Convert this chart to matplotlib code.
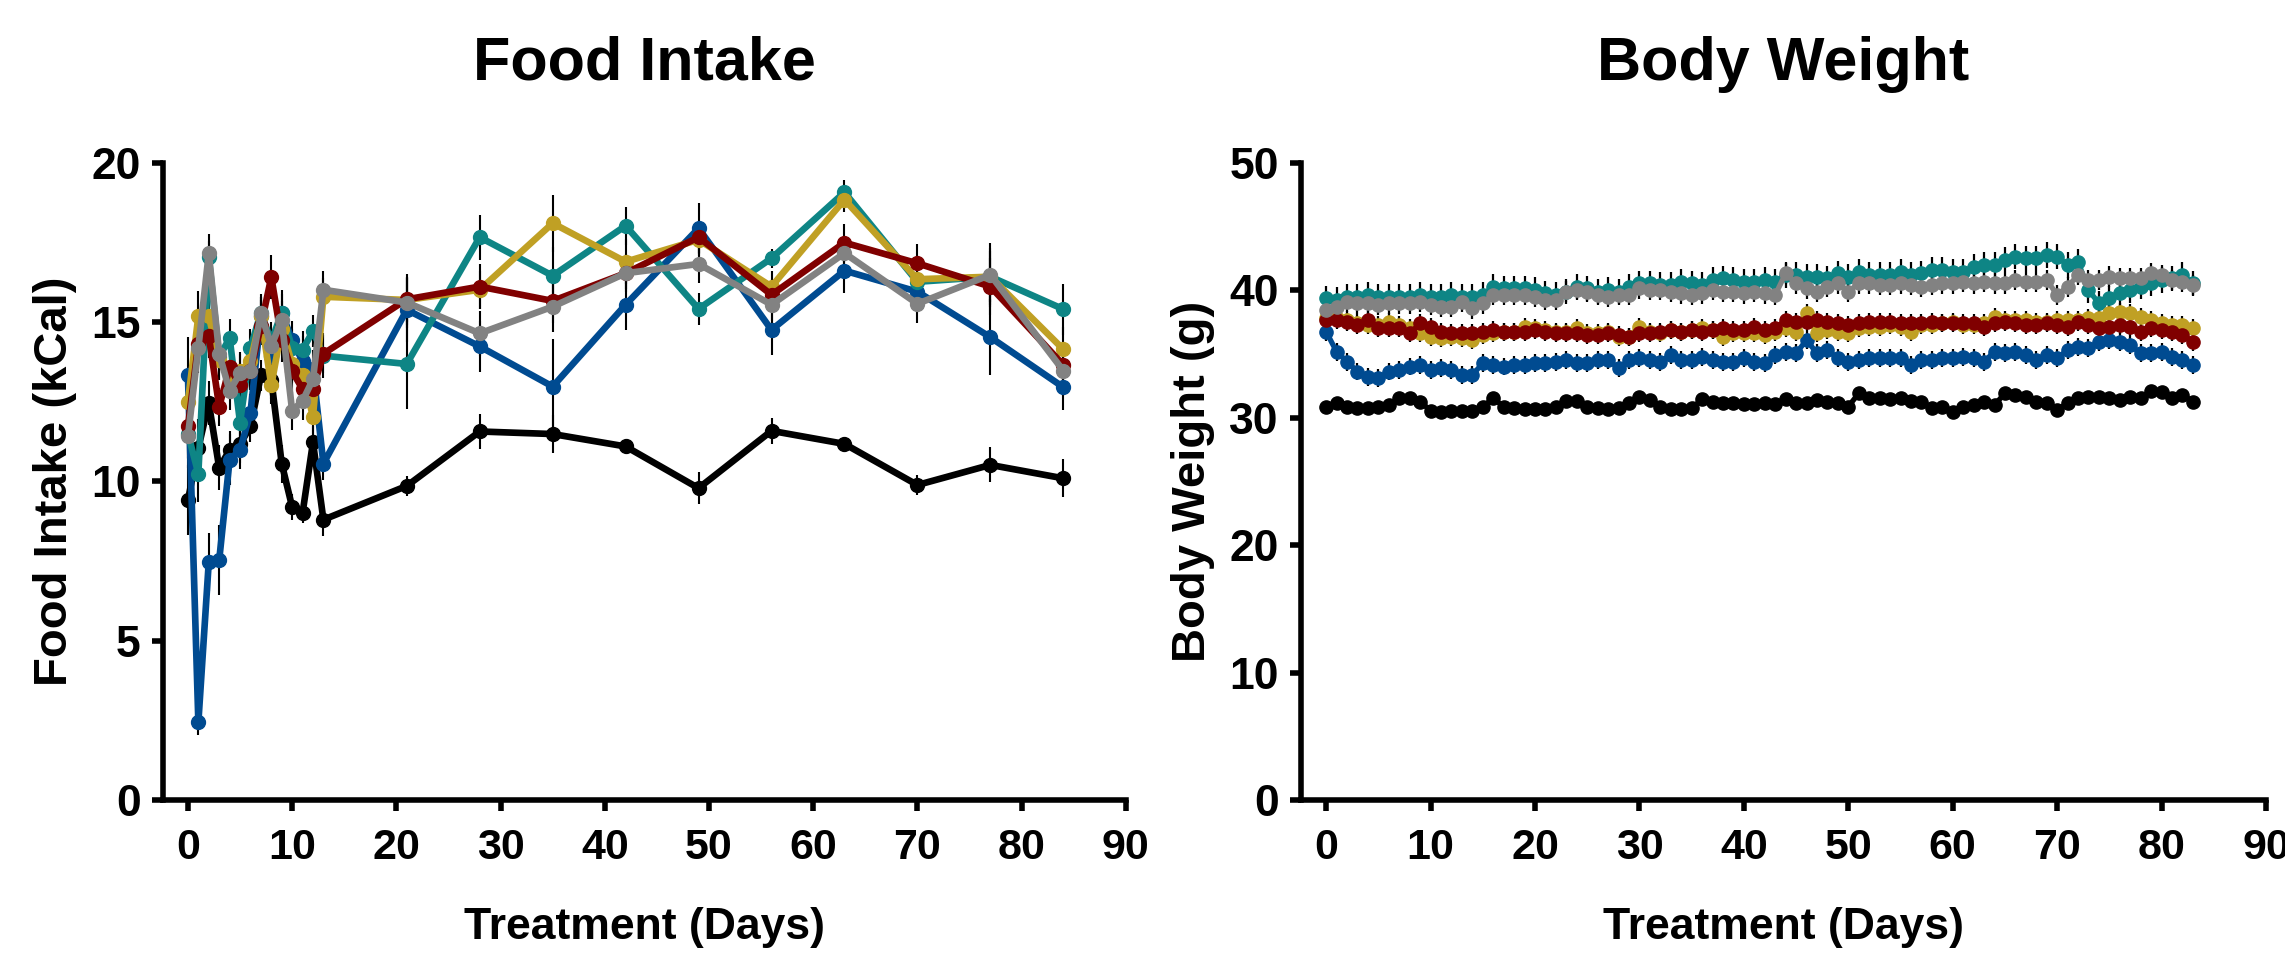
import numpy as np
import matplotlib
matplotlib.use("Agg")
import matplotlib.pyplot as plt

plt.rcParams['font.family'] = ['Liberation Sans', 'DejaVu Sans']
plt.rcParams['font.weight'] = 'bold'

# ---------------- Food intake (kCal) ----------------
fi_days = [0, 1, 2, 3, 4, 5, 6, 7, 8, 9, 10, 11, 12, 13,
           21, 28, 35, 42, 49, 56, 63, 70, 77, 84]

fi_black = [9.41, 11.05, 12.47, 10.43, 10.99, 11.17, 11.73, 13.33, 13.2, 10.56, 9.20, 9.01, 11.23, 8.80,
            9.86, 11.57, 11.49, 11.10, 9.79, 11.59, 11.18, 9.89, 10.52, 10.10]
fi_blue = [13.33, 2.44, 7.47, 7.53, 10.68, 10.99, 12.16, 15.2, 13.95, 15.3, 14.44, 13.77, 13.52, 10.56,
           15.39, 14.24, 12.98, 15.55, 17.95, 14.76, 16.62, 15.96, 14.53, 12.96]
fi_teal = [11.5, 10.25, 17.04, 13.9, 14.51, 11.85, 14.2, 15.3, 14.4, 15.3, 14.2, 14.14, 14.72, 13.95,
           13.69, 17.67, 16.46, 18.03, 15.42, 17.01, 19.08, 16.27, 16.43, 15.41]
fi_gold = [12.5, 15.19, 15.19, 13.8, 13.2, 13.46, 13.77, 15.19, 13.02, 14.8, 13.7, 13.33, 12.04, 15.8,
           15.70, 16.02, 18.11, 16.90, 17.59, 16.12, 18.85, 16.35, 16.43, 14.15]
fi_red = [11.73, 14.32, 14.57, 12.35, 13.58, 13.02, 13.46, 14.88, 16.42, 14.44, 13.46, 12.9, 12.9, 14.01,
          15.72, 16.12, 15.67, 16.54, 17.67, 15.86, 17.5, 16.85, 16.12, 13.66]
fi_gray = [11.42, 14.2, 17.16, 14.01, 12.84, 13.4, 13.46, 15.28, 14.26, 15.06, 12.22, 12.53, 13.21, 16.02,
           15.62, 14.65, 15.49, 16.54, 16.83, 15.55, 17.17, 15.58, 16.49, 13.48]

fi_black_sem = [1.1, 0.9, 0.7, 0.7, 0.6, 0.6, 0.5, 0.5, 0.6, 0.6, 0.4, 0.3, 0.5, 0.5,
                0.3, 0.55, 0.6, 0.1, 0.5, 0.4, 0.2, 0.3, 0.55, 0.6]
fi_blue_sem = [1.2, 0.4, 0.9, 1.1, 0.8, 0.6, 0.6, 0.5, 0.6, 0.7, 0.6, 0.8, 0.6, 0.5,
               1.0, 0.8, 1.5, 0.8, 0.8, 0.8, 0.7, 0.5, 1.2, 0.7]
fi_teal_sem = [0.8, 0.9, 0.5, 0.7, 0.6, 0.8, 0.6, 0.5, 0.6, 0.6, 0.6, 0.6, 0.5, 0.7,
               1.4, 0.7, 0.9, 0.6, 0.5, 0.3, 0.4, 0.6, 0.8, 0.8]
fi_gold_sem = [1.0, 0.8, 0.7, 0.6, 0.6, 0.6, 0.6, 0.6, 0.6, 0.6, 0.6, 0.6, 0.7, 0.6,
               0.8, 0.6, 0.9, 0.7, 0.5, 0.5, 0.4, 0.5, 0.9, 0.7]
fi_red_sem = [1.0, 0.9, 0.7, 0.6, 0.6, 0.6, 0.6, 0.6, 0.7, 0.7, 0.6, 0.6, 0.7, 0.6,
              0.7, 0.7, 0.7, 0.5, 0.5, 0.5, 0.6, 0.6, 0.9, 0.7]
fi_gray_sem = [1.0, 0.8, 0.6, 0.6, 0.6, 0.6, 0.6, 0.6, 0.6, 0.6, 0.6, 0.6, 0.6, 0.6,
               0.8, 0.7, 0.8, 0.6, 0.6, 0.5, 0.5, 0.6, 1.0, 0.8]

# ---------------- Body weight (g), days 0..83 ----------------
bw_days = list(range(84))

bw_black = [30.88, 31.14, 30.88, 30.75, 30.75, 30.88, 31.01, 31.53, 31.53, 31.27,
            30.56, 30.48, 30.56, 30.56, 30.56, 30.88, 31.53, 30.88, 30.75, 30.67,
            30.67, 30.67, 30.88, 31.35, 31.35, 30.88, 30.75, 30.67, 30.75, 31.14,
            31.61, 31.40, 30.88, 30.67, 30.67, 30.75, 31.45, 31.27, 31.14, 31.14,
            31.09, 31.09, 31.14, 31.09, 31.45, 31.14, 31.14, 31.40, 31.27, 31.14,
            30.88, 31.92, 31.53, 31.53, 31.45, 31.53, 31.35, 31.27, 30.75, 30.88,
            30.48, 30.83, 31.01, 31.27, 31.01, 31.92, 31.79, 31.66, 31.27, 31.14,
            30.62, 31.14, 31.53, 31.66, 31.66, 31.53, 31.40, 31.66, 31.53, 32.13,
            32.05, 31.53, 31.79, 31.27]
bw_teal = [39.38, 39.25, 39.51, 39.51, 39.64, 39.51, 39.51, 39.51, 39.51, 39.64,
           39.51, 39.51, 39.64, 39.51, 39.51, 39.64, 40.29, 40.16, 40.16, 40.16,
           40.03, 39.77, 39.64, 39.90, 40.29, 40.16, 39.90, 40.03, 39.90, 40.29,
           40.55, 40.55, 40.42, 40.42, 40.69, 40.55, 40.42, 40.82, 40.95, 40.82,
           40.69, 40.69, 40.82, 40.69, 41.21, 41.21, 41.08, 41.08, 40.95, 41.34,
           41.08, 41.47, 41.21, 41.21, 41.21, 41.47, 41.21, 41.34, 41.60, 41.60,
           41.47, 41.47, 41.86, 41.99, 41.99, 42.39, 42.65, 42.52, 42.52, 42.78,
           42.65, 41.99, 42.26, 40.03, 38.98, 39.38, 39.77, 40.03, 40.29, 40.55,
           40.82, 40.95, 41.21, 40.55]
bw_gray = [38.46, 38.72, 39.12, 38.98, 38.98, 38.85, 38.98, 38.98, 38.98, 39.12,
           38.85, 38.72, 38.72, 39.12, 38.59, 38.98, 39.64, 39.64, 39.64, 39.64,
           39.51, 39.25, 39.25, 39.90, 40.03, 39.90, 39.64, 39.51, 39.64, 39.64,
           40.16, 40.03, 40.03, 39.90, 39.77, 39.64, 39.77, 40.03, 39.90, 39.90,
           39.77, 39.90, 39.77, 39.64, 41.34, 40.55, 40.16, 39.90, 40.29, 40.55,
           39.90, 40.55, 40.55, 40.42, 40.42, 40.55, 40.42, 40.29, 40.42, 40.55,
           40.55, 40.69, 40.55, 40.69, 40.55, 40.55, 40.82, 40.69, 40.69, 40.82,
           39.64, 40.29, 41.21, 40.82, 40.82, 41.08, 40.95, 40.95, 40.95, 41.34,
           41.21, 40.82, 40.69, 40.42]
bw_red = [37.68, 37.68, 37.55, 37.28, 37.68, 37.02, 37.02, 37.02, 36.63, 37.41,
          37.15, 36.76, 36.63, 36.63, 36.63, 36.76, 36.89, 36.76, 36.76, 36.76,
          36.89, 36.76, 36.63, 36.63, 36.63, 36.50, 36.50, 36.63, 36.50, 36.37,
          36.63, 36.63, 36.76, 36.89, 36.76, 36.89, 36.76, 36.89, 37.02, 36.89,
          36.89, 37.15, 36.89, 37.02, 37.68, 37.55, 37.55, 37.68, 37.55, 37.41,
          37.28, 37.41, 37.55, 37.55, 37.55, 37.41, 37.41, 37.41, 37.55, 37.41,
          37.41, 37.41, 37.41, 37.15, 37.41, 37.55, 37.41, 37.28, 37.28, 37.41,
          37.28, 37.15, 37.55, 37.28, 37.02, 37.15, 37.28, 37.15, 36.76, 37.02,
          36.89, 36.76, 36.50, 35.98]
bw_gold = [37.81, 37.81, 37.68, 37.41, 37.28, 37.28, 37.55, 37.28, 37.02, 36.63,
           36.37, 36.24, 36.37, 36.24, 36.11, 36.50, 36.63, 36.76, 36.76, 37.15,
           37.02, 36.89, 36.76, 36.76, 37.02, 36.63, 36.63, 36.76, 36.37, 36.37,
           37.15, 36.76, 36.63, 36.89, 36.76, 36.89, 37.02, 36.89, 36.37, 36.63,
           36.63, 36.63, 36.50, 36.76, 37.02, 36.76, 38.20, 36.63, 36.89, 36.76,
           36.63, 37.02, 37.15, 37.15, 37.28, 37.15, 36.76, 37.28, 37.28, 37.41,
           37.55, 37.28, 37.28, 37.41, 37.94, 37.68, 37.68, 37.68, 37.55, 37.55,
           37.68, 37.68, 37.68, 37.81, 37.81, 38.20, 38.33, 38.20, 37.94, 37.68,
           37.41, 37.28, 37.28, 37.02]
bw_blue = [36.76, 35.19, 34.41, 33.63, 33.23, 33.10, 33.63, 33.76, 34.02, 34.15,
           33.76, 33.89, 33.76, 33.36, 33.36, 34.28, 34.15, 34.02, 34.15, 34.15,
           34.28, 34.28, 34.41, 34.54, 34.28, 34.28, 34.54, 34.54, 33.89, 34.54,
           34.67, 34.54, 34.41, 34.93, 34.54, 34.54, 34.80, 34.54, 34.41, 34.41,
           34.67, 34.41, 34.28, 34.93, 35.19, 35.06, 36.11, 35.06, 35.32, 34.67,
           34.41, 34.54, 34.67, 34.67, 34.67, 34.67, 34.15, 34.54, 34.54, 34.67,
           34.67, 34.80, 34.67, 34.41, 35.19, 35.06, 35.19, 34.93, 34.54, 34.93,
           34.67, 35.32, 35.58, 35.45, 35.98, 36.11, 35.98, 35.71, 35.06, 35.06,
           35.19, 34.80, 34.54, 34.15]

# typical SEM per group in the body-weight panel (bars look roughly constant)
bw_black_sem = 0.3
bw_teal_sem = 1.0
bw_gray_sem = 0.8
bw_red_sem = 0.7
bw_gold_sem = 0.7
bw_blue_sem = 0.7

colors = {'black': '#000000', 'blue': '#004B91', 'teal': '#0E8585',
          'gold': '#C0A024', 'red': '#800000', 'gray': '#828282'}

fi_series = [('black', fi_black, fi_black_sem), ('blue', fi_blue, fi_blue_sem),
             ('teal', fi_teal, fi_teal_sem), ('gold', fi_gold, fi_gold_sem),
             ('red', fi_red, fi_red_sem), ('gray', fi_gray, fi_gray_sem)]
bw_series = [('black', bw_black, bw_black_sem), ('blue', bw_blue, bw_blue_sem),
             ('teal', bw_teal, bw_teal_sem), ('gold', bw_gold, bw_gold_sem),
             ('red', bw_red, bw_red_sem), ('gray', bw_gray, bw_gray_sem)]

fig = plt.figure(figsize=(22.85, 9.6), dpi=100)
ax1 = fig.add_axes([0.0713, 0.1667, 0.4214, 0.6635])
ax2 = fig.add_axes([0.5694, 0.1667, 0.4223, 0.6635])


def style_axis(ax, ylim, yticks, ylabel, title):
    ax.set_xlim(-2.4, 90)
    ax.set_ylim(*ylim)
    ax.set_xticks(range(0, 91, 10))
    ax.set_yticks(yticks)
    for s in ['top', 'right']:
        ax.spines[s].set_visible(False)
    for s in ['left', 'bottom']:
        ax.spines[s].set_linewidth(4)
        ax.spines[s].set_capstyle('projecting')
    ax.tick_params(axis='both', direction='out', length=8, width=4)
    ax.tick_params(axis='y', labelsize=32, pad=8)
    ax.tick_params(axis='x', labelsize=31, pad=12)
    for lab in ax.get_yticklabels() + ax.get_xticklabels():
        lab.set_fontweight('bold')
    ax.set_xlabel('Treatment (Days)', fontsize=32, fontweight='bold', labelpad=28)
    ax.set_ylabel(ylabel, fontsize=34, fontweight='bold', labelpad=10)
    ax.set_title(title, fontsize=44, fontweight='bold', pad=60)


for name, vals, sem in fi_series:
    ax1.errorbar(fi_days, vals, yerr=sem, color=colors[name], ecolor='black',
                 elinewidth=1.5, capsize=0, lw=4.8, marker='o', ms=10,
                 clip_on=False)
for name, vals, sem in bw_series:
    ax2.errorbar(bw_days, vals, yerr=sem, color=colors[name], ecolor='black',
                 elinewidth=1.6, capsize=0, lw=3.8, marker='o', ms=9.5,
                 clip_on=False)

style_axis(ax1, (0, 20), [0, 5, 10, 15, 20], 'Food Intake (kCal)', 'Food Intake')
style_axis(ax2, (0, 50), [0, 10, 20, 30, 40, 50], 'Body Weight (g)', 'Body Weight')

fig.savefig('out.png', dpi=100)
